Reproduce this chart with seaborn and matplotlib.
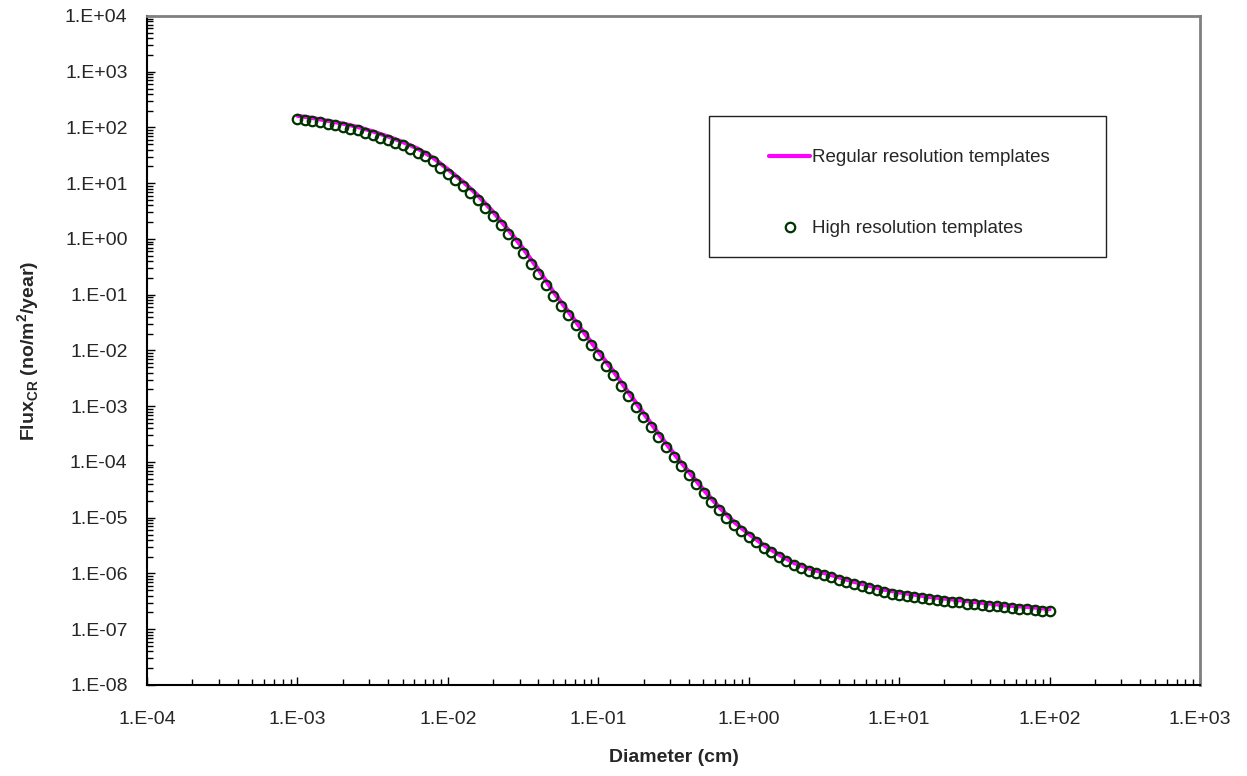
import numpy as np
import matplotlib
matplotlib.use('Agg')
import matplotlib.pyplot as plt
import matplotlib.ticker as mticker
from matplotlib.patches import Rectangle
import seaborn as sns

# sampling grid: 20 points per decade from 1e-3 to 1e2 cm
diam_high = np.logspace(-3, 2, 101)
diam_reg = np.logspace(-3, 2, 51)

# log10 of flux (high resolution templates, circles)
log_flux_high = [
    2.15, 2.13, 2.11, 2.09, 2.06, 2.04, 2.01, 1.98, 1.95, 1.91,
    1.87, 1.82, 1.78, 1.73, 1.68, 1.62, 1.55, 1.48, 1.39, 1.28,
    1.17, 1.06, 0.95, 0.83, 0.70, 0.56, 0.41, 0.25, 0.09, -0.07,
    -0.25, -0.44, -0.62, -0.82, -1.02, -1.20, -1.37, -1.55, -1.73, -1.91,
    -2.09, -2.27, -2.44, -2.63, -2.82, -3.01, -3.19, -3.38, -3.56, -3.73,
    -3.91, -4.08, -4.24, -4.40, -4.56, -4.71, -4.86, -5.00, -5.13, -5.24,
    -5.34, -5.44, -5.54, -5.62, -5.70, -5.78, -5.85, -5.90, -5.95, -5.99,
    -6.03, -6.07, -6.11, -6.15, -6.19, -6.22, -6.26, -6.30, -6.33, -6.36,
    -6.38, -6.40, -6.42, -6.44, -6.46, -6.48, -6.49, -6.51, -6.52, -6.54,
    -6.55, -6.57, -6.58, -6.59, -6.61, -6.62, -6.63, -6.64, -6.65, -6.67,
    -6.68,
]

# log10 of flux, regular resolution templates (magenta line)
log_flux_reg = [
    2.21, 2.17, 2.12, 2.07, 2.01, 1.93, 1.84, 1.74, 1.62, 1.46,
    1.25, 1.03, 0.78, 0.49, 0.17, -0.17, -0.54, -0.94, -1.30, -1.66,
    -2.02, -2.37, -2.75, -3.12, -3.49, -3.84, -4.17, -4.50, -4.80, -5.07,
    -5.29, -5.49, -5.66, -5.81, -5.91, -5.99, -6.07, -6.15, -6.22, -6.29,
    -6.34, -6.38, -6.42, -6.45, -6.48, -6.51, -6.54, -6.57, -6.59, -6.61,
    -6.64,
]

flux_high = 10.0 ** np.array(log_flux_high)
flux_reg = 10.0 ** np.array(log_flux_reg)

sns.set_style('ticks')
plt.rcParams['font.family'] = ['Liberation Sans', 'DejaVu Sans']
plt.rcParams['mathtext.fontset'] = 'custom'
plt.rcParams['mathtext.bf'] = 'Liberation Sans:bold'
plt.rcParams['mathtext.rm'] = 'Liberation Sans'

fig = plt.figure(figsize=(12.47, 7.76), dpi=100)
ax = fig.add_axes([0.1179, 0.1173, 0.8444, 0.8621])

sns.lineplot(x=diam_reg, y=flux_reg, ax=ax, color='#ff00ff', linewidth=3,
             estimator=None, sort=True, label='Regular resolution templates')
sns.lineplot(x=diam_high, y=flux_high, ax=ax, estimator=None, linestyle='',
             marker='o', markersize=6.8, markerfacecolor='none',
             markeredgecolor='#003300', markeredgewidth=1.6, color='#003300',
             label='High resolution templates')

ax.set_xscale('log')
ax.set_yscale('log')
ax.set_xlim(1e-4, 1e3)
ax.set_ylim(1e-8, 1e4)

fmt = mticker.FuncFormatter(lambda v, p: '1.E%+03d' % int(round(np.log10(v))))
ax.xaxis.set_major_locator(mticker.LogLocator(base=10, numticks=20))
ax.yaxis.set_major_locator(mticker.LogLocator(base=10, numticks=20))
ax.xaxis.set_minor_locator(mticker.LogLocator(base=10, subs=np.arange(2, 10), numticks=20))
ax.yaxis.set_minor_locator(mticker.LogLocator(base=10, subs=np.arange(2, 10), numticks=20))
ax.xaxis.set_major_formatter(fmt)
ax.yaxis.set_major_formatter(fmt)
ax.xaxis.set_minor_formatter(mticker.NullFormatter())
ax.yaxis.set_minor_formatter(mticker.NullFormatter())

ax.tick_params(axis='both', which='major', direction='in', length=6, width=1,
               labelsize=14, color='black')
ax.tick_params(axis='both', which='minor', direction='in', length=4, width=1,
               color='black')
ax.tick_params(axis='x', which='major', pad=19)
ax.tick_params(axis='y', which='major', pad=14)
ax.tick_params(top=False, right=False, which='both')

for s in ['left', 'bottom']:
    ax.spines[s].set_color('black')
    ax.spines[s].set_linewidth(1.5)
for s in ['top', 'right']:
    ax.spines[s].set_color('#808080')
    ax.spines[s].set_linewidth(2)

ax.set_xlabel('Diameter (cm)', fontsize=14, fontweight='bold')
ax.set_ylabel(r'Flux$_{\mathbf{CR}}$ (no/m$^{\mathbf{2}}$/year)', fontsize=14,
              fontweight='bold')
ax.xaxis.set_label_coords(0.5, -0.096)
ax.yaxis.set_label_coords(-0.100, 0.5)

# legend entries without frame, frame drawn as a separate box
leg = ax.legend(loc='upper left', bbox_to_anchor=(0.5907, 0.801),
                frameon=False, fontsize=13.5, labelspacing=2.87,
                borderpad=0, handlelength=2.2, handletextpad=0.1,
                borderaxespad=0)
ax.add_patch(Rectangle((0.5337, 0.6398), 0.377, 0.2108, transform=ax.transAxes,
                       fill=False, edgecolor='#222222', linewidth=1, zorder=5))

fig.savefig('out.png', dpi=100)
